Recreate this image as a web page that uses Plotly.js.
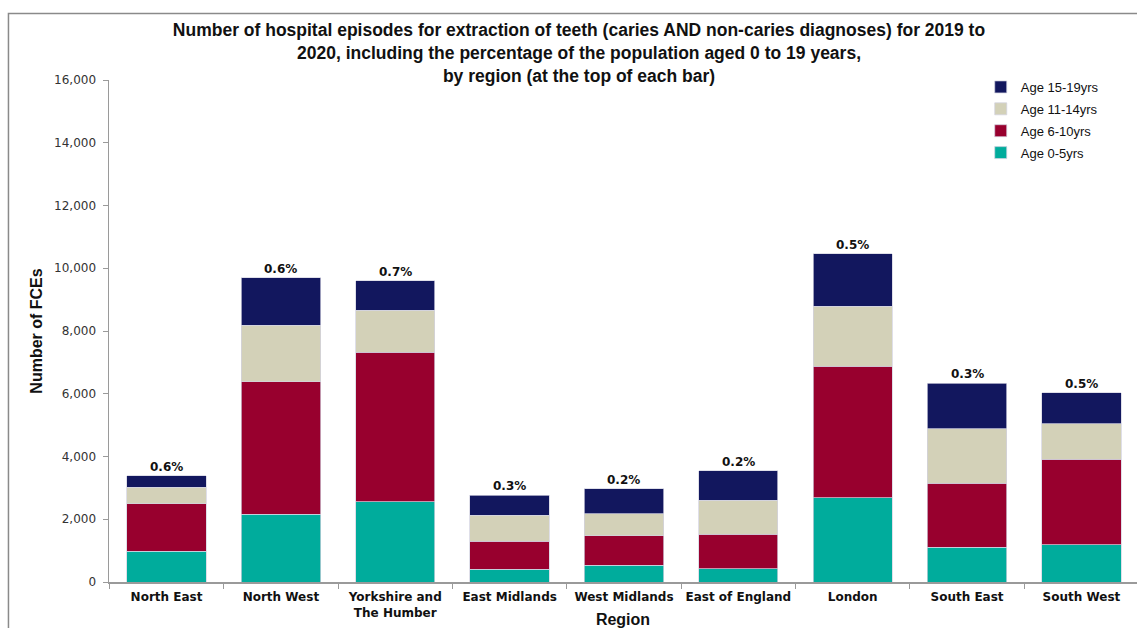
<!DOCTYPE html>
<html>
<head>
<meta charset="utf-8">
<script src="https://cdn.plot.ly/plotly-3.0.1.min.js"></script>
<style>html,body{margin:0;padding:0;background:#fff;}#chart{width:1137px;height:628px;}</style>
</head>
<body>
<div id="chart"></div>
<script>
const regions = ["North East","North West","Yorkshire and<br>The Humber","East Midlands","West Midlands","East of England","London","South East","South West"];
const age0to5   = [975, 2160, 2560, 400, 530, 425, 2690, 1100, 1195];
const age6to10  = [1520, 4230, 4760, 900, 950, 1100, 4180, 2055, 2710];
const age11to14 = [520, 1800, 1345, 825, 700, 1080, 1915, 1735, 1145];
const age15to19 = [370, 1500, 930, 645, 800, 940, 1680, 1450, 985];
const pctLabels = ["0.6%","0.6%","0.7%","0.3%","0.2%","0.2%","0.5%","0.3%","0.5%"];

const seriesNames = ["Age 0-5yrs","Age 6-10yrs","Age 11-14yrs","Age 15-19yrs"];
const seriesVals = [age0to5, age6to10, age11to14, age15to19];
const colors = ["#00AC9C","#98002E","#D3D1B8","#12175E"];

const traces = seriesVals.map((v, i) => ({
  type: "bar",
  name: seriesNames[i],
  x: regions,
  y: v,
  legendgroup: "g" + i,
  legendrank: 10 - i,
  marker: {color: colors[i], line: {color: "rgba(210,210,225,0.9)", width: 0.8}},
  hoverinfo: "x+y+name"
}));

const totals = regions.map((_, j) => seriesVals.reduce((s, arr) => s + arr[j], 0));
const annotations = regions.map((r, j) => ({
  x: r, y: totals[j], xref: "x", yref: "y",
  text: pctLabels[j], showarrow: false, yanchor: "bottom", yshift: 0,
  font: {family: "DejaVu Sans", size: 12, color: "#111", weight: "bold"}
}));

const layout = {
  width: 1137, height: 628,
  margin: {l: 109, r: 0, t: 80, b: 46},
  paper_bgcolor: "#fff", plot_bgcolor: "#fff",
  barmode: "stack",
  bargap: 0.307,
  title: {
    text: "Number of hospital episodes for extraction of teeth (caries AND non-caries diagnoses) for 2019 to<br>2020, including the percentage of the population aged 0 to 19 years,<br>by region (at the top of each bar)",
    x: 579/1137, xref: "container", xanchor: "center",
    y: 1 - 36/628, yref: "container", yanchor: "top",
    font: {family: "Liberation Sans, Arial", size: 17.5, color: "#111", weight: "bold"}
  },
  xaxis: {
    range: [-0.503, 8.486],
    showline: true, linecolor: "#9a9a9a", linewidth: 1.5,
    ticks: "outside", ticklen: 5, tickcolor: "#9a9a9a", tickson: "boundaries",
    tickfont: {family: "DejaVu Sans", size: 12, color: "#111", weight: "bold"},
    tickangle: 0, ticklabelstandoff: 3,
    showgrid: false, zeroline: false,
    title: {text: "Region", standoff: 10, font: {family: "Liberation Sans, Arial", size: 16, color: "#111", weight: "bold"}}
  },
  yaxis: {
    range: [0, 16000], tickvals: [0,2000,4000,6000,8000,10000,12000,14000,16000],
    tickformat: ",d",
    showline: true, linecolor: "#9a9a9a", linewidth: 1.5,
    ticks: "outside", ticklen: 5, tickcolor: "#9a9a9a",
    tickfont: {family: "DejaVu Sans", size: 12, color: "#333"},
    ticklabelstandoff: 4,
    showgrid: false, zeroline: false,
    title: {text: "Number of FCEs", standoff: 7, font: {family: "Liberation Sans, Arial", size: 16, color: "#111", weight: "bold"}}
  },
  legend: {
    x: 0.848, y: 1.016, xanchor: "left", yanchor: "top",
    traceorder: "grouped", tracegroupgap: 2,
    font: {family: "Liberation Sans, Arial", size: 13, color: "#111"},
    itemwidth: 30, bgcolor: "rgba(255,255,255,0)"
  },
  annotations: annotations,
  shapes: [{
    type: "path", xref: "paper", yref: "paper",
    path: "M -0.0978 -0.3 L -0.0978 1.1325 L 1.05 1.1325",
    line: {color: "#8a8a8a", width: 1.5}
  }],
  showlegend: true
};

Plotly.newPlot("chart", traces, layout, {displayModeBar: false, staticPlot: true});
</script>
</body>
</html>
